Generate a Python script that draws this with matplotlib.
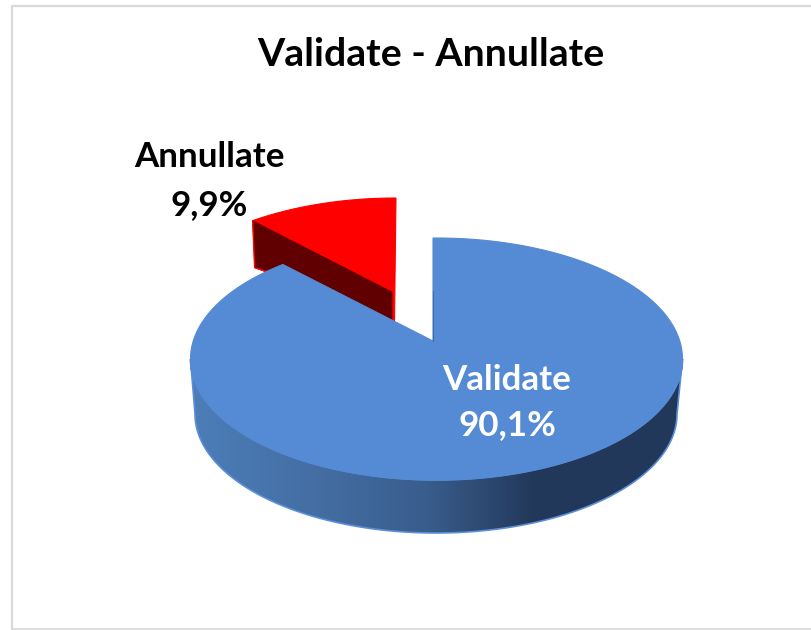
import numpy as np
import matplotlib
matplotlib.use('Agg')
import matplotlib.pyplot as plt
from matplotlib.colors import LinearSegmentedColormap
from matplotlib.patches import Polygon

title = 'Validate - Annullate'
labels = ['Validate', 'Annullate']
values = [90.1, 9.9]

plt.rcParams['font.family'] = ['Lato', 'DejaVu Sans']

# pie geometry in pixels
cx, cy, rx, ry = 436.5, 359, 246, 121
bx, by, brx, bry = 436, 414, 241, 119
apex = (433, 341)
red_shift = (-40.5, -40)
red_apex = (394.5, 321)
depth = 28


def ell(t, x0=cx, y0=cy, a=rx, b=ry):
    t = np.radians(t)
    return np.column_stack([x0 + a * np.sin(t), y0 - b * np.cos(t)])


fig = plt.figure(figsize=(8.12, 6.30), dpi=100)
ax = fig.add_axes([0, 0, 1, 1])
ax.set_xlim(0, 812)
ax.set_ylim(630, 0)
ax.axis('off')

# frame
ax.plot([12, 12, 830], [640, 5.5, 5.5], color='#d9d9d9', lw=1.6)
ax.plot([12, 830], [628.5, 628.5], color='#d9d9d9', lw=1.2)

split = values[0] / sum(values) * 360

# exploded slice
arc = ell(np.linspace(split, 360, 40), cx + red_shift[0], cy + red_shift[1])
ax.add_patch(Polygon(np.vstack([arc, red_apex, (392, 320)]), fc='#ff0000', ec='#ff0000', lw=0.8, zorder=2))
p0 = arc[0]
wall = [p0, (392, 292), (392, 292 + depth), (p0[0] + 2, p0[1] + 47)]
ax.add_patch(Polygon(wall, fc='#600000', ec='#600000', lw=0.5, zorder=3))
ax.plot([p0[0], p0[0] + 2, p0[0] + 18], [p0[1], p0[1] + 47, p0[1] + 52], color='#ff0000', lw=1, zorder=3)

# outer wall with left to right shading
top_edge = ell(np.linspace(90, 270, 120))
bot_edge = ell(np.linspace(270, 90, 120), bx, by, brx, bry)
wall_outer = np.vstack([top_edge, bot_edge])
cmap = LinearSegmentedColormap.from_list('wall', [
    (0.0, '#4c7eb8'), (0.25, '#446ea4'), (0.48, '#395d8c'),
    (0.70, '#22385a'), (1.0, '#22385a')])
clip = Polygon(wall_outer, fc='none', ec='#5b8fd6', lw=1.2, zorder=5)
ax.add_patch(clip)
im = ax.imshow(np.linspace(0, 1, 256).reshape(1, -1), cmap=cmap, aspect='auto',
               extent=[191, 683, 540, 350], zorder=4)
im.set_clip_path(clip)
ax.set_xlim(0, 812)
ax.set_ylim(630, 0)

# top of the big slice, the cut edge leans a bit because of perspective
arc = ell(np.linspace(0, split - 3, 300))
top = np.vstack([(apex[0], arc[0][1]), arc, apex])
ax.add_patch(Polygon(top, fc='#558ad4', ec='#558ad4', lw=0.8, zorder=6))
ax.plot([apex[0], apex[0]], [apex[1], apex[1] - 50], color='#3f6ea8', lw=0.8, zorder=7)

# texts
def pct(v):
    return f'{v:.1f}'.replace('.', ',') + '%'


ax.text(431, 54, title, ha='center', va='center', fontsize=28.3, fontweight='bold', color='black', zorder=8)
ax.text(209, 157, labels[1], ha='center', va='center', fontsize=25.2, fontweight='bold', color='black', zorder=8)
ax.text(209, 205, pct(values[1]), ha='center', va='center', fontsize=25.2, fontweight='bold', color='black', zorder=8)
ax.text(507, 380, labels[0], ha='center', va='center', fontsize=25.2, fontweight='bold', color='white', zorder=8)
ax.text(507, 425, pct(values[0]), ha='center', va='center', fontsize=25.2, fontweight='bold', color='white', zorder=8)

fig.savefig('out.png', dpi=100)
